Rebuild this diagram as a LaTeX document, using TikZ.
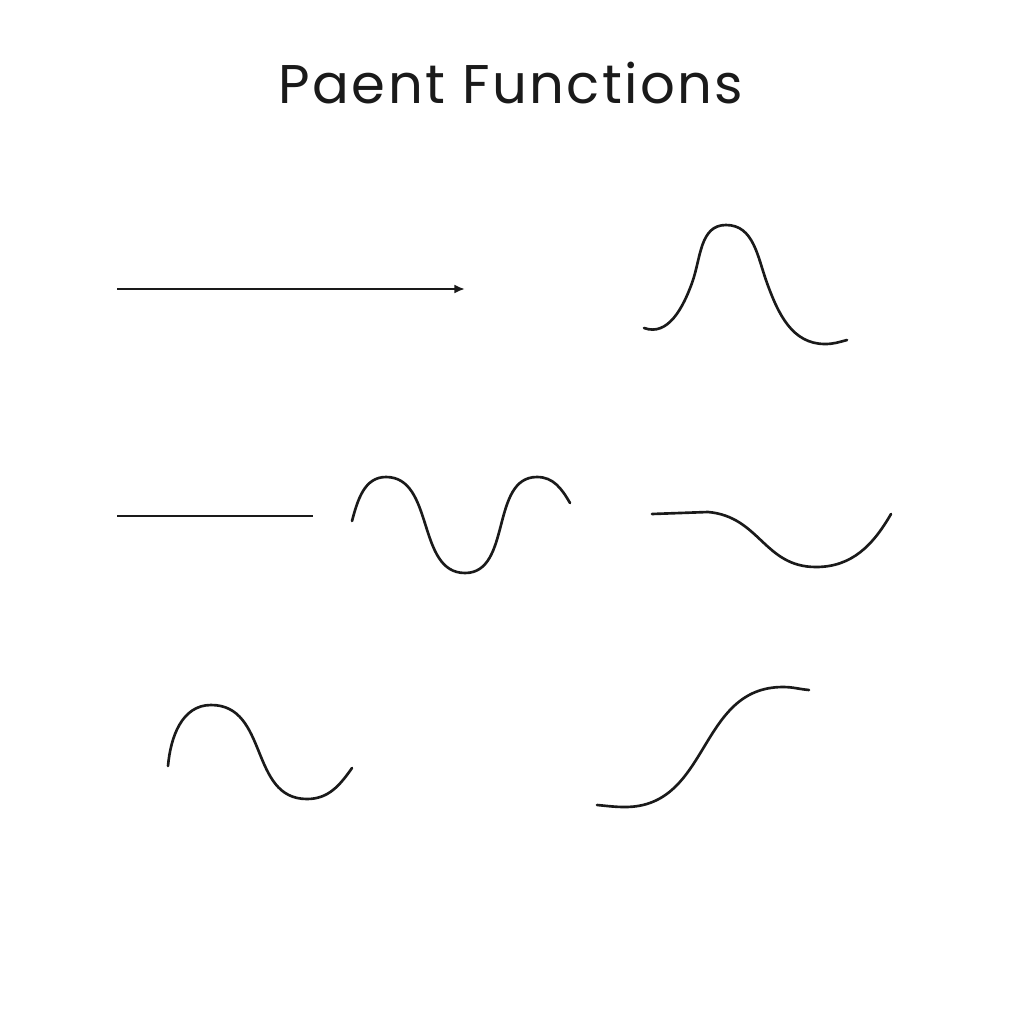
\documentclass[tikz,border=0pt]{standalone}
\usepackage{fontspec}
\setmainfont{Poppins}
\usepackage{tikz}
\usetikzlibrary{arrows.meta,positioning,calc}
\usepackage{xcolor}
\definecolor{inkblack}{RGB}{26,26,26}

\tikzset{
    curveline/.style={inkblack,line width=1.5pt,line cap=round},
    flatline/.style={inkblack,line width=1.3pt},
}

\begin{document}
\begin{tikzpicture}[x=0.02cm,y=0.02cm]
        \useasboundingbox[fill=white] (0,0) rectangle (1024,-1024);
        \node[anchor=base,inkblack,font=\fontsize{31}{36}\selectfont\addfontfeatures{LetterSpace=4.5}] (title) at (511,-104) {Paent Functions};
        
        % row 1
        \coordinate (arrowstart) at (117,-289);
        \coordinate (arrowend) at (465,-289);
        \draw[flatline,-{Latex[length=6pt,width=5pt]}] (arrowstart) -- (arrowend);
        \draw[curveline] (644,-328) to[out=-20,in=-110] (692,-283) to[out=70,in=180] (726,-225) to[out=0,in=110] (767,-283) to[out=-70,in=180] (825,-344) to[out=0,in=195] (847,-340);
        
        % row 2
        \coordinate (flatstart) at (117,-516);
        \coordinate (flatend) at (313,-516);
        \draw[flatline] (flatstart) -- (flatend);
        \draw[curveline] (352,-521) to[out=75,in=180] (386,-477) to[out=0,in=180] (465,-573) to[out=0,in=180] (537,-477) to[out=0,in=120] (570,-503);
        \draw[curveline] (652,-514) -- (708,-512) to[out=-5,in=180,looseness=1.1] (816,-567) to[out=0,in=-120] (891,-514);
        
        % row 3
        \draw[curveline] (168,-766) to[out=85,in=180] (211,-705) to[out=0,in=180,looseness=1.1] (307,-799) to[out=0,in=-125] (352,-768);
        \draw[curveline] (597,-805) to[out=-5,in=180] (625,-807) to[out=0,in=180,looseness=1.1] (783,-687) to[out=0,in=175] (809,-690);
    \end{tikzpicture}
\end{document}
